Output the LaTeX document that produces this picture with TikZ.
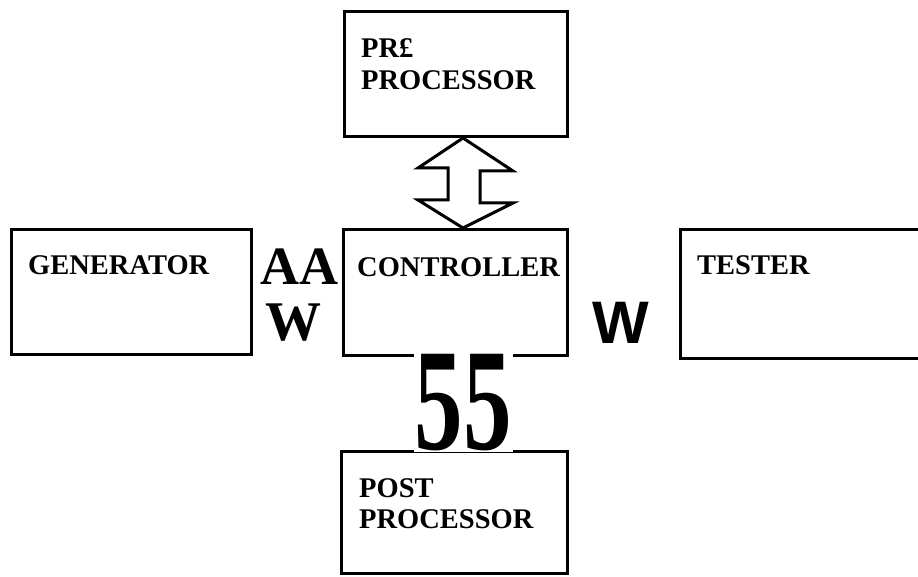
\documentclass[tikz,border=0pt]{standalone}
\usepackage{fontspec}
\usepackage{graphicx}
\setmainfont{Liberation Serif}
\newfontfamily\sansfam{Liberation Sans}
\usetikzlibrary{calc}
\tikzset{
  box/.style={draw, line width=3pt, rectangle, inner sep=0pt, anchor=north west},
  lbl/.style={anchor=base west, inner sep=0pt, font=\bfseries\fontsize{28.5}{32}\selectfont},
  big/.style={anchor=base west, inner sep=0pt},
}
\begin{document}
\begin{tikzpicture}[x=1pt,y=-1pt]
\useasboundingbox[fill=white] (0,0) rectangle (918,577);
% boxes
\node[box, minimum width=223pt, minimum height=125pt] (pre) at (343,10) {};
\node[box, minimum width=224pt, minimum height=126pt] (ctrl) at (342,228) {};
\node[box, minimum width=240pt, minimum height=125pt] (gen) at (10,228) {};
\node[box, draw=none, minimum width=250pt, minimum height=125pt] (test) at (680,230) {};
\draw[line width=3pt] (test.north east) -- (test.north west) -- (test.south west) -- (test.south east);
\node[box, minimum width=226pt, minimum height=122pt] (post) at (340,450) {};
% labels
\node[lbl] (t1) at (361,58) {PR£};
\node[lbl] (t2) at (361,90) {PROCESSOR};
\node[lbl] (t3) at (28,275) {GENERATOR};
\node[lbl] (t4) at (357,277) {CONTROLLER};
\node[lbl] (t5) at (697,275) {TESTER};
\node[lbl] (t6) at (359,497) {POST};
\node[lbl] (t7) at (359,528) {PROCESSOR};
% double arrow between pre-processor and controller
\draw[line width=3pt, line join=miter, fill=white]
  ($(pre.south west)+(120,0)$) -- ++(50,33) -- ++(-33,0) -- ++(0,32) -- ++(33,0)
  -- ($(ctrl.north west)+(121,0)$) -- ++(-45,-28) -- ++(30,0) -- ++(0,-32) -- ++(-30,0) -- cycle;
% large glyphs
\node[big, font=\bfseries\fontsize{54}{56}\selectfont] (aa) at (260,285) {AA};
\node[big, font=\bfseries\fontsize{56}{58}\selectfont] (w1) at (265,340) {W};
\node[big, font=\sansfam\bfseries\fontsize{60}{62}\selectfont] (w2) at (592,343) {W};
\node[fill=white, inner sep=1pt, font=\bfseries\fontsize{97}{100}\selectfont] (n55) at (463,403) {\scalebox{1}[1.5]{55}};
\end{tikzpicture}
\end{document}
